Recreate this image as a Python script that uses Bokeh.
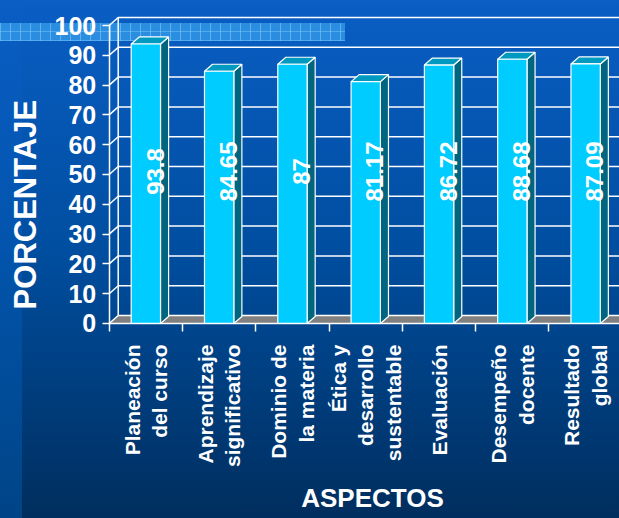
import math
from bokeh.plotting import figure
from bokeh.models import Range1d, FixedTicker, Label
from bokeh.embed import file_html
from bokeh.resources import INLINE
from bokeh.core.properties import value

# ---------------- data ----------------
categories = ["Planeación\ndel curso", "Aprendizaje\nsignificativo", "Dominio de\nla materia",
              "Ética y\ndesarrollo\nsustentable", "Evaluación", "Desempeño\ndocente",
              "Resultado\nglobal"]
values = [93.8, 84.65, 87, 81.17, 86.72, 88.68, 87.09]
value_labels = ["93.8", "84.65", "87", "81.17", "86.72", "88.68", "87.09"]
y_ticks = [0, 10, 20, 30, 40, 50, 60, 70, 80, 90, 100]
y_title = "PORCENTAJE"
x_title = "ASPECTOS"

# ---------------- geometry / style ----------------
W, H = 619, 518
FONT = "Liberation Sans"
BAR_W = 0.4
BAR_DX, BAR_DY = 0.11, 2.35      # depth of the 3D bars
WALL_DX, WALL_DY = 0.123, 2.68   # offset of the back wall
X_START, X_END = -1.483, 6.962
Y_START, Y_END = -65.44, 108.39
FRONT = "#00ccff"
SIDE = "#006680"
TOP = "#0099c0"

background = ", ".join([
    # checkered decorative band
    "repeating-linear-gradient(90deg, rgba(130,205,255,0.55) 0px, rgba(130,205,255,0.55) 1px, rgba(0,0,0,0) 1px, rgba(0,0,0,0) 10px)",
    "repeating-linear-gradient(0deg, rgba(130,205,255,0.45) 0px, rgba(130,205,255,0.45) 1px, rgba(0,0,0,0) 1px, rgba(0,0,0,0) 9px)",
    "linear-gradient(rgba(48,148,228,0.88), rgba(48,148,228,0.88))",
    # lighter strip at the left edge
    "linear-gradient(to bottom, #0a5ec4 0px, #0254ac 250px, #004486 518px)",
    # main vertical gradient
    "linear-gradient(to bottom, #0a5ec4 0px, #004ea0 250px, #002e5e 518px)",
])

p = figure(width=W, height=H, x_range=Range1d(X_START, X_END), y_range=Range1d(Y_START, Y_END),
           output_backend="svg", toolbar_location=None,
           min_border_left=0, min_border_right=0, min_border_top=0, min_border_bottom=0)
p.styles = {
    "background-image": background,
    "background-size": "345px 18px, 345px 18px, 345px 18px, 22px 100%, 100% 100%",
    "background-position": "0px 23px, 0px 23px, 0px 23px, 0px 0px, 0px 0px",
    "background-repeat": "no-repeat",
}
p.background_fill_alpha = 0
p.border_fill_alpha = 0
p.outline_line_color = None
p.grid.visible = False

n = len(values)
centers = [i + 0.5 for i in range(n)]
bounds = [i for i in range(n + 1)]

# floor
far = X_END + 1
p.patch([0, far, far + WALL_DX, WALL_DX], [0, 0, WALL_DY, WALL_DY],
        fill_color="#808080", line_color=None)

# back wall grid + left wall
p.segment(x0=[WALL_DX] * len(y_ticks), y0=[t + WALL_DY for t in y_ticks],
          x1=[far] * len(y_ticks), y1=[t + WALL_DY for t in y_ticks],
          line_color="white", line_width=1.5)
p.segment(x0=[0] * len(y_ticks), y0=y_ticks,
          x1=[WALL_DX] * len(y_ticks), y1=[t + WALL_DY for t in y_ticks],
          line_color="white", line_width=1.5)
p.segment(x0=[WALL_DX], y0=[WALL_DY], x1=[WALL_DX], y1=[y_ticks[-1] + WALL_DY],
          line_color="white", line_width=1.5)

# 3D bars
lefts = [c - BAR_W / 2 for c in centers]
rights = [c + BAR_W / 2 for c in centers]
side_xs = [[r, r + BAR_DX, r + BAR_DX, r] for r in rights]
side_ys = [[0, BAR_DY, v + BAR_DY, v] for v in values]
top_xs = [[l, r, r + BAR_DX, l + BAR_DX] for l, r in zip(lefts, rights)]
top_ys = [[v, v, v + BAR_DY, v + BAR_DY] for v in values]
p.patches(side_xs, side_ys, fill_color=SIDE, line_color="white", line_width=1.2)
p.patches(top_xs, top_ys, fill_color=TOP, line_color="white", line_width=1.2)
p.quad(left=lefts, right=rights, bottom=0, top=values, fill_color=FRONT,
       line_color="white", line_width=1.2)

# value labels
p.text(x=[c + 0.125 for c in centers], y=[51] * n, text=value_labels, angle=math.pi / 2,
       text_align="center", text_baseline="middle", text_color="white",
       text_font=value(FONT), text_font_style="bold", text_font_size="24px")

# y axis (drawn at x = 0 inside the canvas)
p.yaxis.fixed_location = 0
p.yaxis.bounds = (y_ticks[0], y_ticks[-1])
p.yaxis.ticker = FixedTicker(ticks=y_ticks)
p.yaxis.axis_line_color = "white"
p.yaxis.axis_line_width = 1.5
p.yaxis.major_tick_line_color = "white"
p.yaxis.major_tick_line_width = 1.5
p.yaxis.major_tick_in = 0
p.yaxis.major_tick_out = 7
p.yaxis.minor_tick_line_color = None
p.yaxis.major_label_text_color = "white"
p.yaxis.major_label_text_font = FONT
p.yaxis.major_label_text_font_style = "bold"
p.yaxis.major_label_text_font_size = "25px"
p.yaxis.major_label_standoff = 6

# x axis (drawn at y = 0)
p.xaxis.fixed_location = 0
p.xaxis.bounds = (bounds[0], far)
p.xaxis.ticker = FixedTicker(ticks=centers, minor_ticks=bounds)
p.xaxis.major_label_overrides = {c: lab for c, lab in zip(centers, categories)}
p.xaxis.major_label_orientation = math.pi / 2
p.xaxis.major_tick_line_color = None
p.xaxis.major_tick_in = 0
p.xaxis.major_tick_out = 0
p.xaxis.minor_tick_line_color = "white"
p.xaxis.minor_tick_line_width = 1.5
p.xaxis.minor_tick_in = 0
p.xaxis.minor_tick_out = 8
p.xaxis.axis_line_color = "white"
p.xaxis.axis_line_width = 1.5
p.xaxis.major_label_standoff = 13
p.xaxis.major_label_text_color = "white"
p.xaxis.major_label_text_font = FONT
p.xaxis.major_label_text_font_style = "bold"
p.xaxis.major_label_text_font_size = "21px"

# axis titles
p.add_layout(Label(x=-1.142, y=39.9, text=y_title, angle=math.pi / 2,
                   text_align="center", text_baseline="middle", text_color="white",
                   text_font=FONT, text_font_style="bold", text_font_size="31px"))
p.add_layout(Label(x=3.592, y=-58.6, text=x_title, text_align="center",
                   text_baseline="middle", text_color="white",
                   text_font=FONT, text_font_style="bold", text_font_size="26px"))

open("out.html", "w").write(file_html(p, INLINE))
